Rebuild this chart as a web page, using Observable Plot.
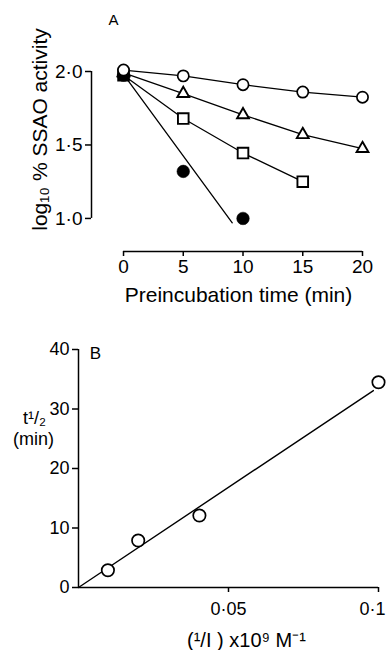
<!DOCTYPE html>
<html><head><meta charset="utf-8">
<script src="https://cdn.jsdelivr.net/npm/d3@7"></script>
<script src="https://cdn.jsdelivr.net/npm/@observablehq/plot@0.6"></script>
<style>
html,body{margin:0;padding:0;background:#fff;overflow:hidden;}
#chart{width:386px;height:650px;overflow:hidden;position:relative;}
#chart svg{display:block;}
</style></head><body><div id="chart"></div>
<script>
// ---------- Panel A data ----------
const panelALabel = "A";
const timeOpen = [0, 5, 10, 15, 20];
const circleVals = [2.01, 1.97, 1.91, 1.86, 1.825];
const triangleVals = [1.99, 1.85, 1.705, 1.57, 1.475];
const squareTimes = [0, 5, 10, 15];
const squareVals = [1.975, 1.68, 1.445, 1.25];
const filledTimes = [0, 5, 10];
const filledVals = [1.975, 1.32, 1.0];
const filledFitTimes = [0, 9.1];
const filledFitVals = [1.98, 0.97];
const xTicksA = [0, 5, 10, 15, 20];
const xTickLabelsA = ["0", "5", "10", "15", "20"];
const yTicksA = [1, 1.5, 2];
const yTickLabelsA = ["1·0", "1·5", "2·0"];
const xTitleA = "Preincubation time (min)";
const yTitleA = "log₁₀ % SSAO activity";
// the axes of panel A are detached: the y axis sits left of t = 0, the x axis below 1·0
const xDomainA = [-2.68, 20];
const yDomainA = [0.775, 2];

// ---------- Panel B data ----------
const panelBLabel = "B";
const invI = [0.0098, 0.0199, 0.0403, 0.1];
const halfLife = [2.9, 7.9, 12.1, 34.5];
const fitInvI = [0, 0.0983];
const fitHalfLife = [0, 33.1];
const xTicksB = [0.05, 0.1];
const xTickLabelsB = ["0·05", "0·1"];
const yTicksB = [0, 10, 20, 30, 40];
const yTickLabelsB = ["0", "10", "20", "30", "40"];
const xTitleB = "(¹/I ) x10⁹ M⁻¹";
const yTitleB1 = "t¹/₂";
const yTitleB2 = "(min)";

const FONT = "'Liberation Sans', Arial, sans-serif";
const rows = (xs, ys) => xs.map((x, i) => ({x, y: ys[i]}));
const lab = (ticks, labels) => (d) => labels[ticks.indexOf(d)];

const plotA = Plot.plot({
  width: 386, height: 312,
  marginLeft: 91, marginRight: 24, marginTop: 71, marginBottom: 61,
  x: {domain: xDomainA},
  y: {domain: yDomainA},
  style: {fontFamily: FONT, fontSize: "19px", color: "black", background: "white"},
  marks: [
    Plot.ruleX([xDomainA[0]], {y1: yTicksA[0], y2: yTicksA[yTicksA.length - 1], strokeWidth: 1.5}),
    Plot.ruleY([yDomainA[0]], {x1: xTicksA[0], x2: xTicksA[xTicksA.length - 1], strokeWidth: 1.5}),
    Plot.axisY(yTicksA, {tickFormat: lab(yTicksA, yTickLabelsA), tickSize: 6, tickPadding: 3, strokeWidth: 1.5, label: null}),
    Plot.axisX(xTicksA, {tickFormat: lab(xTicksA, xTickLabelsA), tickSize: 5, tickPadding: 3, strokeWidth: 1.5, label: null}),
    Plot.line(rows(timeOpen, circleVals), {x: "x", y: "y", stroke: "black", strokeWidth: 1.3}),
    Plot.line(rows(timeOpen, triangleVals), {x: "x", y: "y", stroke: "black", strokeWidth: 1.3}),
    Plot.line(rows(squareTimes, squareVals), {x: "x", y: "y", stroke: "black", strokeWidth: 1.3}),
    Plot.line(rows(filledFitTimes, filledFitVals), {x: "x", y: "y", stroke: "black", strokeWidth: 1.3}),
    Plot.dot(rows(timeOpen, triangleVals), {x: "x", y: "y", symbol: "triangle", r: 4.4, fill: "white", stroke: "black", strokeWidth: 1.9}),
    Plot.dot(rows(squareTimes, squareVals), {x: "x", y: "y", symbol: "square", r: 6, fill: "white", stroke: "black", strokeWidth: 1.9}),
    Plot.dot(rows(filledTimes, filledVals), {x: "x", y: "y", r: 6.3, fill: "black", stroke: "black", strokeWidth: 0.5}),
    Plot.dot(rows(timeOpen, circleVals), {x: "x", y: "y", r: 5.6, fill: "white", stroke: "black", strokeWidth: 1.7}),
    Plot.text([panelALabel], {text: (d) => d, frameAnchor: "top-left", dx: 22, dy: -51, textAnchor: "middle", lineAnchor: "middle", fontSize: 15}),
    Plot.text([xTitleA], {text: (d) => d, frameAnchor: "bottom", dx: 11.5, dy: 44, textAnchor: "middle", lineAnchor: "middle", fontSize: 21}),
    Plot.text([yTitleA], {text: (d) => d, frameAnchor: "left", rotate: -90, dx: -51, dy: -32, textAnchor: "middle", lineAnchor: "middle", fontSize: 21})
  ]
});

const plotB = Plot.plot({
  width: 386, height: 338,
  marginLeft: 78, marginRight: 8, marginTop: 37, marginBottom: 63,
  x: {domain: [0, 0.1]},
  y: {domain: [0, 40]},
  style: {fontFamily: FONT, fontSize: "18px", color: "black", background: "white"},
  marks: [
    Plot.ruleX([0], {y1: 0, y2: 40, strokeWidth: 1.5}),
    Plot.ruleY([0], {x1: 0, x2: 0.1, strokeWidth: 1.5}),
    Plot.axisY(yTicksB, {tickFormat: lab(yTicksB, yTickLabelsB), tickSize: 6, tickPadding: 3, strokeWidth: 1.5, label: null}),
    Plot.axisX(xTicksB, {tickFormat: () => "", tickSize: 5, tickPadding: 9, strokeWidth: 1.5, label: null}),
    Plot.text([xTicksB[0]], {x: (d) => d, text: lab(xTicksB, xTickLabelsB), frameAnchor: "bottom", dy: 22, textAnchor: "middle", lineAnchor: "middle", fontSize: 18}),
    Plot.text([xTicksB[1]], {x: (d) => d, text: lab(xTicksB, xTickLabelsB), frameAnchor: "bottom", dx: 7, dy: 22, textAnchor: "end", lineAnchor: "middle", fontSize: 18}),
    Plot.line(rows(fitInvI, fitHalfLife), {x: "x", y: "y", stroke: "black", strokeWidth: 1.4}),
    Plot.dot(rows(invI, halfLife), {x: "x", y: "y", r: 6.2, fill: "white", stroke: "black", strokeWidth: 1.7}),
    Plot.text([panelBLabel], {text: (d) => d, frameAnchor: "top-left", dx: 17, dy: 4, textAnchor: "middle", lineAnchor: "middle", fontSize: 17}),
    Plot.text([yTitleB1], {text: (d) => d, frameAnchor: "top-left", dx: -44, dy: 69, textAnchor: "middle", lineAnchor: "middle", fontSize: 18}),
    Plot.text([yTitleB2], {text: (d) => d, frameAnchor: "top-left", dx: -45, dy: 90, textAnchor: "middle", lineAnchor: "middle", fontSize: 18}),
    Plot.text([xTitleB], {text: (d) => d, frameAnchor: "bottom", dx: 18, dy: 53, textAnchor: "middle", lineAnchor: "middle", fontSize: 20})
  ]
});

const chart = document.getElementById("chart");
chart.appendChild(plotA);
chart.appendChild(plotB);
</script>
</body></html>
